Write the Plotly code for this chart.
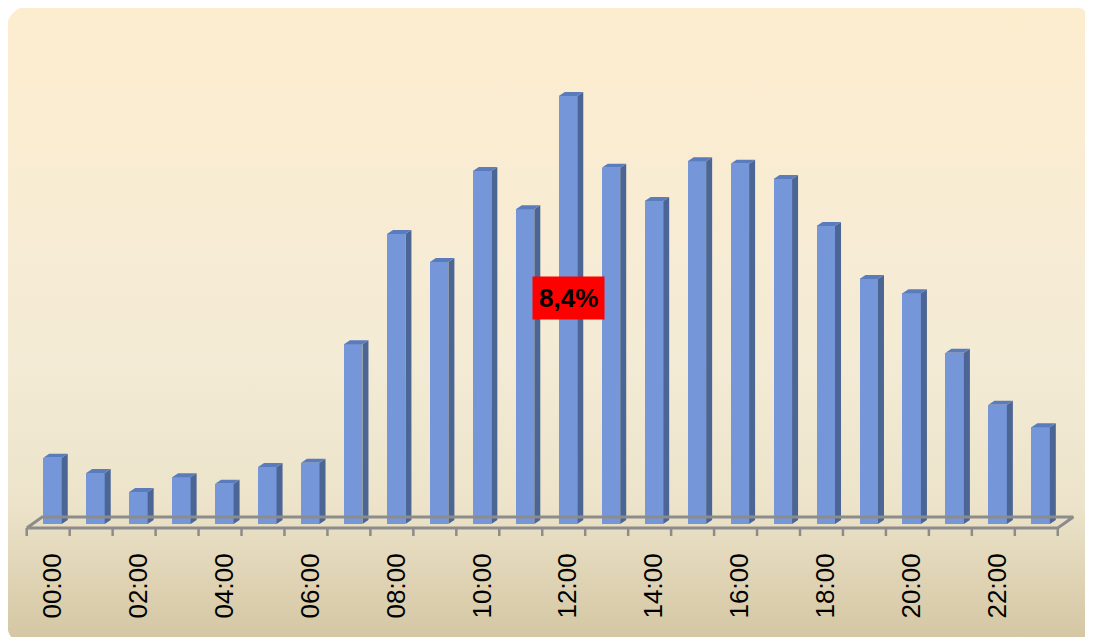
import base64
import plotly.graph_objects as go

# ---- data -------------------------------------------------------------
hours = ["00:00", "01:00", "02:00", "03:00", "04:00", "05:00", "06:00", "07:00",
         "08:00", "09:00", "10:00", "11:00", "12:00", "13:00", "14:00", "15:00",
         "16:00", "17:00", "18:00", "19:00", "20:00", "21:00", "22:00", "23:00"]
share = [1.30, 1.00, 0.63, 0.92, 0.79, 1.12, 1.20, 3.53, 5.69, 5.14, 6.93, 6.18,
         8.40, 6.99, 6.34, 7.12, 7.07, 6.77, 5.85, 4.81, 4.53, 3.36, 2.34, 1.90]
tick_labels = hours[::2]
peak_label = "8,4%"

# ---- geometry / style -------------------------------------------------
OFF = 8               # page body margin
W, H = 1093 - OFF, 637 - OFF
PX_X = 42.96          # pixels per category
PX_Y = 50.95          # pixels per percent
X0_PX = 52.5 - OFF    # pixel of first category centre
BASE_PX = 524 - OFF   # pixel of value 0
PLOT_BOTTOM_PX = 536 - OFF
BAR_W = 0.43
DX = 6 / PX_X         # 3-D depth offsets
DY = 4 / PX_Y

FRONT = "#7597DA"
SIDE = "#4B6594"
TOP = "#5B7CBC"
FLOOR = "#8C8C8C"

n = len(share)
xs = list(range(n))

x_range = [-X0_PX / PX_X, (W - X0_PX) / PX_X]
y_range = [-(PLOT_BOTTOM_PX - BASE_PX) / PX_Y, BASE_PX / PX_Y]

fig = go.Figure()

# front faces
fig.add_trace(go.Bar(x=xs, y=share, width=BAR_W, marker=dict(color=FRONT, line=dict(width=0)),
                     hoverinfo="skip", showlegend=False))

# side faces & top faces
sx, sy, tx, ty = [], [], [], []
for i, v in zip(xs, share):
    l, r = i - BAR_W / 2, i + BAR_W / 2
    sx += [r, r + DX, r + DX, r, r, None]
    sy += [0, DY, v + DY, v, 0, None]
    tx += [l, l + DX, r + DX, r, l, None]
    ty += [v, v + DY, v + DY, v, v, None]
fig.add_trace(go.Scatter(x=sx, y=sy, mode="lines", fill="toself", fillcolor=SIDE,
                         line=dict(width=0, color=SIDE), hoverinfo="skip", showlegend=False))
fig.add_trace(go.Scatter(x=tx, y=ty, mode="lines", fill="toself", fillcolor=TOP,
                         line=dict(width=0, color=TOP), hoverinfo="skip", showlegend=False))

# floor (perspective rectangle) and tick marks
shift = 0.1
fy = -4 / PX_Y
bdx, bdy = 15.5 / PX_X, 11 / PX_Y
fl, fr = -0.5 - shift, n - 0.5 - shift
floor_x = [fl, fr, fr + bdx, fl + bdx, fl]
floor_y = [fy, fy, fy + bdy, fy + bdy, fy]
fig.add_trace(go.Scatter(x=floor_x, y=floor_y, mode="lines",
                         line=dict(color=FLOOR, width=3), hoverinfo="skip", showlegend=False))
kx, ky = [], []
for k in range(n + 1):
    p = k - 0.5 - shift
    kx += [p, p, None]
    ky += [fy, y_range[0], None]
fig.add_trace(go.Scatter(x=kx, y=ky, mode="lines",
                         line=dict(color=FLOOR, width=2.5), hoverinfo="skip", showlegend=False))

# peak label
peak_i = max(xs, key=lambda i: share[i])
fig.add_annotation(x=peak_i, y=share[peak_i] / 2, yshift=12, text=f"<b>{peak_label}</b>",
                   showarrow=False, bgcolor="#FF0000", borderpad=6,
                   font=dict(family="Liberation Sans, Arial", size=26, color="black"))

# background gradient panel
svg = ('<svg xmlns="http://www.w3.org/2000/svg" width="1086" height="640" viewBox="0 0 1086 640">'
       '<defs><linearGradient id="g" x1="0" y1="0" x2="0" y2="1">'
       '<stop offset="0" stop-color="#FDEDCF"/>'
       '<stop offset="0.55" stop-color="#F4EBD6"/>'
       '<stop offset="0.78" stop-color="#ECE3CA"/>'
       '<stop offset="1" stop-color="#D3C5A1"/>'
       '</linearGradient></defs>'
       '<rect x="0" y="0" width="1086" height="640" rx="22" ry="22" fill="url(#g)"/></svg>')
src = "data:image/svg+xml;base64," + base64.b64encode(svg.encode()).decode()
plot_h = PLOT_BOTTOM_PX
fig.add_layout_image(dict(source=src, xref="paper", yref="paper",
                          x=(7 - OFF) / W, y=(plot_h - (6 - OFF)) / plot_h,
                          sizex=1086 / W, sizey=640 / plot_h,
                          xanchor="left", yanchor="top", sizing="stretch", layer="below"))

fig.update_layout(
    width=W, height=H,
    margin=dict(l=0, r=0, t=0, b=H - PLOT_BOTTOM_PX, pad=0),
    paper_bgcolor="white", plot_bgcolor="rgba(0,0,0,0)",
    bargap=0,
    xaxis=dict(range=x_range, tickmode="array", tickvals=xs[::2], ticktext=tick_labels,
               tickangle=-90, ticks="outside", ticklen=6, tickcolor="rgba(0,0,0,0)",
               showgrid=False, zeroline=False, showline=False, fixedrange=True,
               tickfont=dict(family="Liberation Sans, Arial", size=26, color="black")),
    yaxis=dict(range=y_range, visible=False, showgrid=False, zeroline=False, fixedrange=True),
)

fig.write_html("out.html")
